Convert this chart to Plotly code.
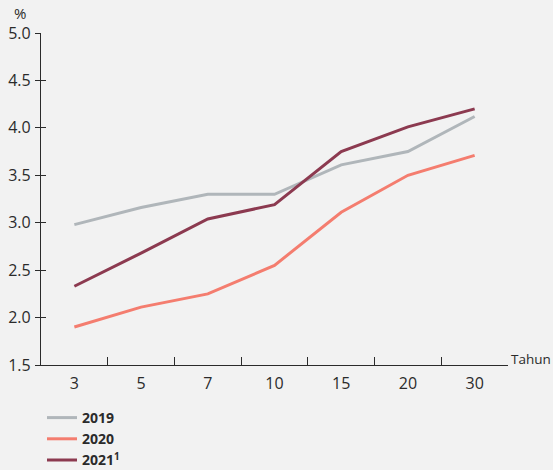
import plotly.graph_objects as go

tenors = ["3", "5", "7", "10", "15", "20", "30"]
y2019 = [2.98, 3.16, 3.30, 3.30, 3.61, 3.75, 4.12]
y2020 = [1.90, 2.11, 2.25, 2.55, 3.11, 3.50, 3.71]
y2021 = [2.33, 2.68, 3.04, 3.19, 3.75, 4.01, 4.20]
series_names = ["<b>2019</b>", "<b>2020</b>", "<b>2021<sup>1</sup></b>"]
colors = ["#b0b6ba", "#f47d6f", "#8c3a50"]

fig = go.Figure()
for name, ys, c in zip(series_names, [y2019, y2020, y2021], colors):
    fig.add_trace(go.Scatter(x=tenors, y=ys, mode="lines", name=name,
                             line=dict(color=c, width=3)))

# invisible trace on second y-axis (inside ticks make the crossing ticks)
fig.add_trace(go.Scatter(x=tenors, y=y2019, yaxis="y2", mode="lines",
                         line=dict(width=0), showlegend=False, hoverinfo="skip",
                         opacity=0))

font_main = "Open Sans, Noto Sans, sans-serif"
fig.update_layout(
    width=553, height=470,
    paper_bgcolor="#f2f2f2", plot_bgcolor="#f2f2f2",
    margin=dict(l=41, r=45, t=33, b=105, autoexpand=False),
    font=dict(family=font_main, size=14, color="#2b2b2b"),
    xaxis=dict(type="category", range=[-0.5, 6.5], tickson="boundaries",
               ticks="inside", ticklen=8, tickcolor="#2b2b2b", tickwidth=1.2,
               showline=True, linecolor="#2b2b2b", linewidth=1.2,
               showgrid=False, zeroline=False, ticklabelstandoff=4,
               tickfont=dict(size=16, color="#2b2b2b")),
    yaxis=dict(range=[1.5, 5.0], dtick=0.5, tickformat=".1f",
               ticks="outside", ticklen=5, tickcolor="#2b2b2b", tickwidth=1.2,
               showline=True, linecolor="#2b2b2b", linewidth=1.2,
               showgrid=False, zeroline=False, ticklabelstandoff=1,
               tickfont=dict(size=16, color="#2b2b2b")),
    yaxis2=dict(range=[1.5, 5.0], dtick=0.5, overlaying="y", side="left",
                ticks="inside", ticklen=5, tickcolor="#2b2b2b", tickwidth=1.2,
                showticklabels=False, showgrid=False, zeroline=False,
                showline=False),
    legend=dict(x=42 / 553, y=1 - 402 / 470, xref="container", yref="container",
                xanchor="left", yanchor="top",
                bgcolor="rgba(0,0,0,0)", tracegroupgap=0,
                font=dict(size=14, color="#2b2b2b", family=font_main),
                itemwidth=30),
    showlegend=True,
    annotations=[
        dict(text="%", x=0, xref="paper", y=1, yref="paper",
             xanchor="right", yanchor="bottom", xshift=-13, yshift=8,
             showarrow=False, font=dict(size=15, color="#2b2b2b")),
        dict(text="Tahun", x=1, xref="paper", y=0, yref="paper",
             xanchor="left", yanchor="middle", xshift=1, yshift=6,
             showarrow=False, font=dict(size=13.5, color="#2b2b2b")),
    ],
)

fig.write_html("out.html")
